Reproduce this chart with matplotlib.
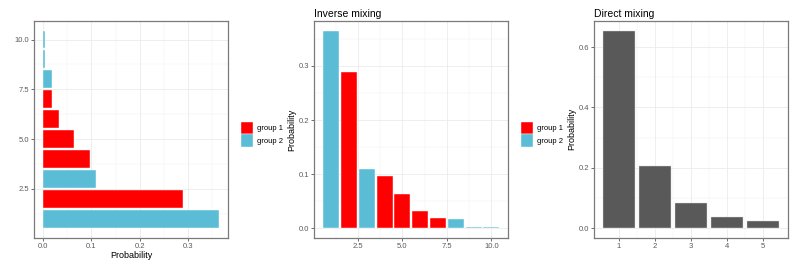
import matplotlib.pyplot as plt
from matplotlib.patches import Patch
from matplotlib.ticker import MultipleLocator, FixedLocator

plt.rcParams['font.family'] = ['Liberation Sans', 'DejaVu Sans']

# data
sizes = [1, 2, 3, 4, 5, 6, 7, 8, 9, 10]
probs = [0.365, 0.289, 0.110, 0.096, 0.064, 0.032, 0.019, 0.018, 0.003, 0.003]
groups = [2, 1, 2, 1, 1, 1, 1, 2, 2, 2]
direct_x = [1, 2, 3, 4, 5]
direct_p = [0.655, 0.205, 0.082, 0.036, 0.023]
group_labels = ['group 1', 'group 2']

RED = '#FF0000'
BLUE = '#5BBCD6'
GREY = '#595959'
colors = [RED if g == 1 else BLUE for g in groups]

W, H = 797, 266
fig = plt.figure(figsize=(W / 100, H / 100), dpi=100)


def px_axes(x0, x1, y0, y1):
    return fig.add_axes([x0 / W, 1 - y1 / H, (x1 - x0) / W, (y1 - y0) / H])


def style(ax):
    ax.set_axisbelow(True)
    ax.grid(True, which='major', color='#EBEBEB', lw=0.6)
    ax.grid(True, which='minor', color='#F2F2F2', lw=0.35)
    for s in ax.spines.values():
        s.set_color('#7A7A7A')
        s.set_linewidth(0.9)
    ax.tick_params(which='major', length=2, width=0.5, color='#333333',
                   labelsize=5.5, labelcolor='#5A5A5A', pad=1.5)
    ax.tick_params(which='minor', length=0)


def pad(lo, hi):
    d = (hi - lo) * 0.05
    return lo - d, hi + d


# panel 1: horizontal bars
ax1 = px_axes(34.3, 228.3, 20.7, 237.7)
ax1.barh(sizes, probs, height=0.9, color=colors, edgecolor='white', lw=0.3)
ax1.set_xlim(*pad(0, max(probs)))
ax1.set_ylim(*pad(0.55, 10.45))
ax1.xaxis.set_major_locator(MultipleLocator(0.1))
ax1.xaxis.set_minor_locator(MultipleLocator(0.05))
ax1.yaxis.set_major_locator(MultipleLocator(2.5))
ax1.yaxis.set_minor_locator(MultipleLocator(1.25))
ax1.xaxis.set_major_formatter(lambda v, p: f'{v:.1f}')
ax1.yaxis.set_major_formatter(lambda v, p: f'{v:.1f}')
ax1.set_xlabel('Probability', fontsize=6.5, labelpad=1)
style(ax1)

# panel 2: inverse mixing
ax2 = px_axes(314.3, 508.3, 20.7, 238.3)
ax2.bar(sizes, probs, width=0.9, color=colors, edgecolor='white', lw=0.3)
ax2.set_xlim(*pad(0.55, 10.45))
ax2.set_ylim(*pad(0, max(probs)))
ax2.xaxis.set_major_locator(MultipleLocator(2.5))
ax2.xaxis.set_minor_locator(MultipleLocator(1.25))
ax2.yaxis.set_major_locator(MultipleLocator(0.1))
ax2.yaxis.set_minor_locator(MultipleLocator(0.05))
ax2.xaxis.set_major_formatter(lambda v, p: f'{v:.1f}')
ax2.yaxis.set_major_formatter(lambda v, p: f'{v:.1f}')
ax2.set_ylabel('Probability', fontsize=6.5, labelpad=2)
ax2.set_title('Inverse mixing', fontsize=7.5, loc='left', pad=3)
style(ax2)

# panel 3: direct mixing
ax3 = px_axes(594, 788.3, 20.7, 238.0)
ax3.bar(direct_x, direct_p, width=0.9, color=GREY, edgecolor='#DDDDDD', lw=0.3)
ax3.set_xlim(*pad(0.55, 5.45))
ax3.set_ylim(*pad(0, max(direct_p)))
ax3.xaxis.set_major_locator(FixedLocator(direct_x))
ax3.xaxis.set_minor_locator(FixedLocator([1.5, 2.5, 3.5, 4.5]))
ax3.yaxis.set_major_locator(MultipleLocator(0.2))
ax3.yaxis.set_minor_locator(MultipleLocator(0.1))
ax3.yaxis.set_major_formatter(lambda v, p: f'{v:.1f}')
ax3.set_ylabel('Probability', fontsize=6.5, labelpad=2)
ax3.set_title('Direct mixing', fontsize=7.5, loc='left', pad=3)
style(ax3)

# legends
handles = [Patch(facecolor=RED, edgecolor='white', lw=0.3),
           Patch(facecolor=BLUE, edgecolor='white', lw=0.3)]
for lx in (241, 521):
    fig.legend(handles, group_labels, loc='center left',
               bbox_to_anchor=(lx / W, 1 - 134.3 / H), frameon=False,
               fontsize=5.5, handlelength=1.55, handleheight=2.2,
               labelspacing=0, handletextpad=0.6, borderpad=0, borderaxespad=0)

fig.savefig('out.png', dpi=100)
